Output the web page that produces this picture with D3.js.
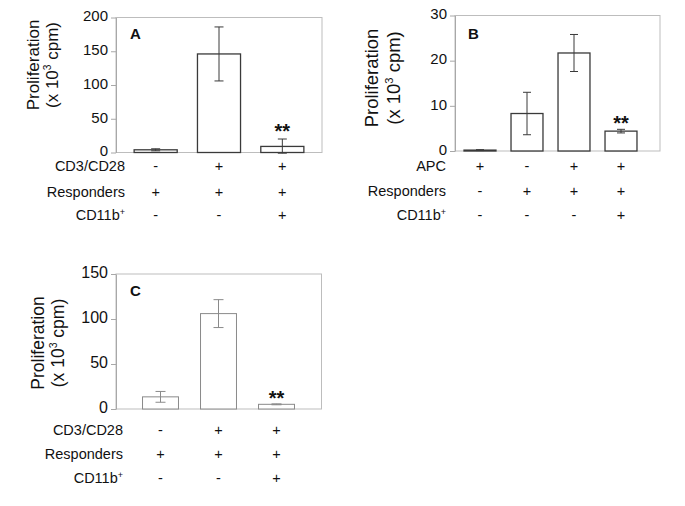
<!DOCTYPE html>
<html>
<head>
<meta charset="utf-8">
<script src="https://cdn.jsdelivr.net/npm/d3@7"></script>
<style>
  html, body { margin: 0; padding: 0; background: #fff; }
  svg { display: block; }
  text { font-family: Arial, "Liberation Sans", sans-serif; fill: #111; }
</style>
</head>
<body>
<svg id="chart" width="685" height="506"></svg>
<script>
// ---------- Data ----------
const panelACategories = ["a1", "a2", "a3"];
const panelAValues = [4, 146, 9];
const panelAErrors = [1.5, 40, 11];
const panelAYTicks = [0, 50, 100, 150, 200];
const panelARowLabels = ["CD3/CD28", "Responders", "CD11b"];
const panelARowSigns = [["-", "+", "+"], ["+", "+", "+"], ["-", "-", "+"]];
const panelASignificance = ["", "", "**"];

const panelBCategories = ["b1", "b2", "b3", "b4"];
const panelBValues = [0.2, 8.3, 21.7, 4.4];
const panelBErrors = [0.1, 4.7, 4.1, 0.4];
const panelBYTicks = [0, 10, 20, 30];
const panelBRowLabels = ["APC", "Responders", "CD11b"];
const panelBRowSigns = [["+", "-", "+", "+"], ["-", "+", "+", "+"], ["-", "-", "-", "+"]];
const panelBSignificance = ["", "", "", "**"];

const panelCCategories = ["c1", "c2", "c3"];
const panelCValues = [13.5, 106, 5.2];
const panelCErrors = [6, 15.5, 0.5];
const panelCYTicks = [0, 50, 100, 150];
const panelCRowLabels = ["CD3/CD28", "Responders", "CD11b"];
const panelCRowSigns = [["-", "+", "+"], ["+", "+", "+"], ["-", "-", "+"]];
const panelCSignificance = ["", "", "**"];

const svg = d3.select("#chart");

function drawPanel(cfg) {
  const g = svg.append("g");
  const y = d3.scaleLinear().domain([0, cfg.yMax]).range([cfg.bottom, cfg.top]);
  const x = d3.scaleBand().domain(cfg.categories)
    .range(cfg.bandRange).paddingInner(cfg.padIn).paddingOuter(cfg.padIn / 2);

  // frame
  g.append("rect")
    .attr("x", cfg.left).attr("y", cfg.top)
    .attr("width", cfg.right - cfg.left).attr("height", cfg.bottom - cfg.top)
    .attr("fill", "none").attr("stroke", "#bdbdbd").attr("stroke-width", 1);

  // y axis
  const ax = g.append("g").attr("transform", `translate(${cfg.left},0)`)
    .call(d3.axisLeft(y).tickValues(cfg.ticks).tickSize(5).tickPadding(3).tickSizeOuter(0));
  ax.select(".domain").attr("stroke", "#a8a8a8");
  ax.selectAll(".tick line").attr("stroke", "#a8a8a8");
  ax.selectAll(".tick text").attr("font-size", cfg.tickFont).attr("dy", "0.22em")
    .attr("font-family", "Arial, 'Liberation Sans', sans-serif").attr("fill", "#111");

  // bars
  const data = cfg.categories.map((c, i) => ({ c, v: cfg.values[i], e: cfg.errors[i], s: cfg.sig[i] }));
  g.selectAll("rect.bar").data(data).enter().append("rect")
    .attr("class", "bar")
    .attr("x", d => x(d.c)).attr("width", x.bandwidth())
    .attr("y", d => y(d.v)).attr("height", d => cfg.bottom - y(d.v))
    .attr("fill", "#fff").attr("stroke", cfg.barStroke).attr("stroke-width", cfg.barWidth);

  // error bars
  const eg = g.selectAll("g.err").data(data).enter().append("g").attr("class", "err")
    .attr("stroke", cfg.errStroke).attr("stroke-width", 1);
  const cx = d => x(d.c) + x.bandwidth() / 2;
  eg.append("line").attr("x1", cx).attr("x2", cx)
    .attr("y1", d => y(d.v + d.e)).attr("y2", d => y(Math.max(d.v - d.e, -1)));
  eg.append("line").attr("x1", d => cx(d) - cfg.cap).attr("x2", d => cx(d) + cfg.cap)
    .attr("y1", d => y(d.v + d.e)).attr("y2", d => y(d.v + d.e));
  eg.append("line").attr("x1", d => cx(d) - cfg.cap).attr("x2", d => cx(d) + cfg.cap)
    .attr("y1", d => y(Math.max(d.v - d.e, -1))).attr("y2", d => y(Math.max(d.v - d.e, -1)));

  // significance stars
  g.selectAll("text.sig").data(data.filter(d => d.s)).enter().append("text")
    .attr("class", "sig")
    .attr("x", cx).attr("y", d => y(d.v + d.e) + cfg.sigDy)
    .attr("text-anchor", "middle").attr("font-size", 20).attr("font-weight", "bold")
    .text(d => d.s);

  // panel letter
  g.append("text").attr("x", cfg.letterX).attr("y", cfg.letterY)
    .attr("font-size", 15).attr("font-weight", "bold").text(cfg.letter);

  // y label
  g.append("text")
    .attr("transform", `translate(${cfg.labX1},${cfg.labY}) rotate(-90)`)
    .attr("text-anchor", "middle").attr("font-size", cfg.labFont).text("Proliferation");
  const yl2 = g.append("text")
    .attr("transform", `translate(${cfg.labX2},${cfg.labY}) rotate(-90)`)
    .attr("text-anchor", "middle").attr("font-size", cfg.labFont);
  yl2.append("tspan").text("(x 10");
  yl2.append("tspan").attr("font-size", cfg.labFont * 0.6).attr("dy", -cfg.labFont * 0.4).text("3");
  yl2.append("tspan").attr("dy", cfg.labFont * 0.4).text(" cpm)");

  // row labels and signs
  cfg.rowLabels.forEach((lab, r) => {
    const t = g.append("text").attr("x", cfg.rowLabelX).attr("y", cfg.rowY[r])
      .attr("text-anchor", "end").attr("font-size", 14.5);
    t.append("tspan").text(lab);
    if (lab === "CD11b") {
      t.append("tspan").attr("font-size", 9).attr("dy", -5).text("+");
    }
    g.selectAll(null).data(cfg.rowSigns[r]).enter().append("text")
      .attr("x", (d, i) => x(cfg.categories[i]) + x.bandwidth() / 2)
      .attr("y", cfg.rowY[r])
      .attr("text-anchor", "middle").attr("font-size", 14.5)
      .text(d => d);
  });
}

drawPanel({
  categories: panelACategories, values: panelAValues, errors: panelAErrors,
  ticks: panelAYTicks, rowLabels: panelARowLabels, rowSigns: panelARowSigns, sig: panelASignificance,
  yMax: 200, left: 116, right: 322, top: 17.5, bottom: 152.5,
  bandRange: [124, 314], padIn: 0.32, cap: 4.5,
  barStroke: "#3a3a3a", barWidth: 1.3, errStroke: "#3a3a3a",
  tickFont: 15, sigDy: -1, letter: "A", letterX: 130, letterY: 39,
  labX1: 39, labX2: 58, labY: 65, labFont: 17,
  rowLabelX: 125, rowY: [171, 197, 220]
});

drawPanel({
  categories: panelBCategories, values: panelBValues, errors: panelBErrors,
  ticks: panelBYTicks, rowLabels: panelBRowLabels, rowSigns: panelBRowSigns, sig: panelBSignificance,
  yMax: 30, left: 455, right: 660, top: 15.5, bottom: 151,
  bandRange: [456.5, 644.5], padIn: 0.32, cap: 4,
  barStroke: "#3a3a3a", barWidth: 1.3, errStroke: "#3a3a3a",
  tickFont: 15, sigDy: 1, letter: "B", letterX: 468, letterY: 38.5,
  labX1: 378, labX2: 400, labY: 78, labFont: 18.5,
  rowLabelX: 446, rowY: [170.5, 196, 220]
});

drawPanel({
  categories: panelCCategories, values: panelCValues, errors: panelCErrors,
  ticks: panelCYTicks, rowLabels: panelCRowLabels, rowSigns: panelCRowSigns, sig: panelCSignificance,
  yMax: 150, left: 116, right: 321.5, top: 274, bottom: 409,
  bandRange: [131.5, 305.5], padIn: 0.38, cap: 5,
  barStroke: "#8a8a8a", barWidth: 1, errStroke: "#8a8a8a",
  tickFont: 16, sigDy: 1, letter: "C", letterX: 130, letterY: 296,
  labX1: 44, labX2: 64, labY: 343, labFont: 17.5,
  rowLabelX: 123, rowY: [435, 459, 483]
});
</script>
</body>
</html>
